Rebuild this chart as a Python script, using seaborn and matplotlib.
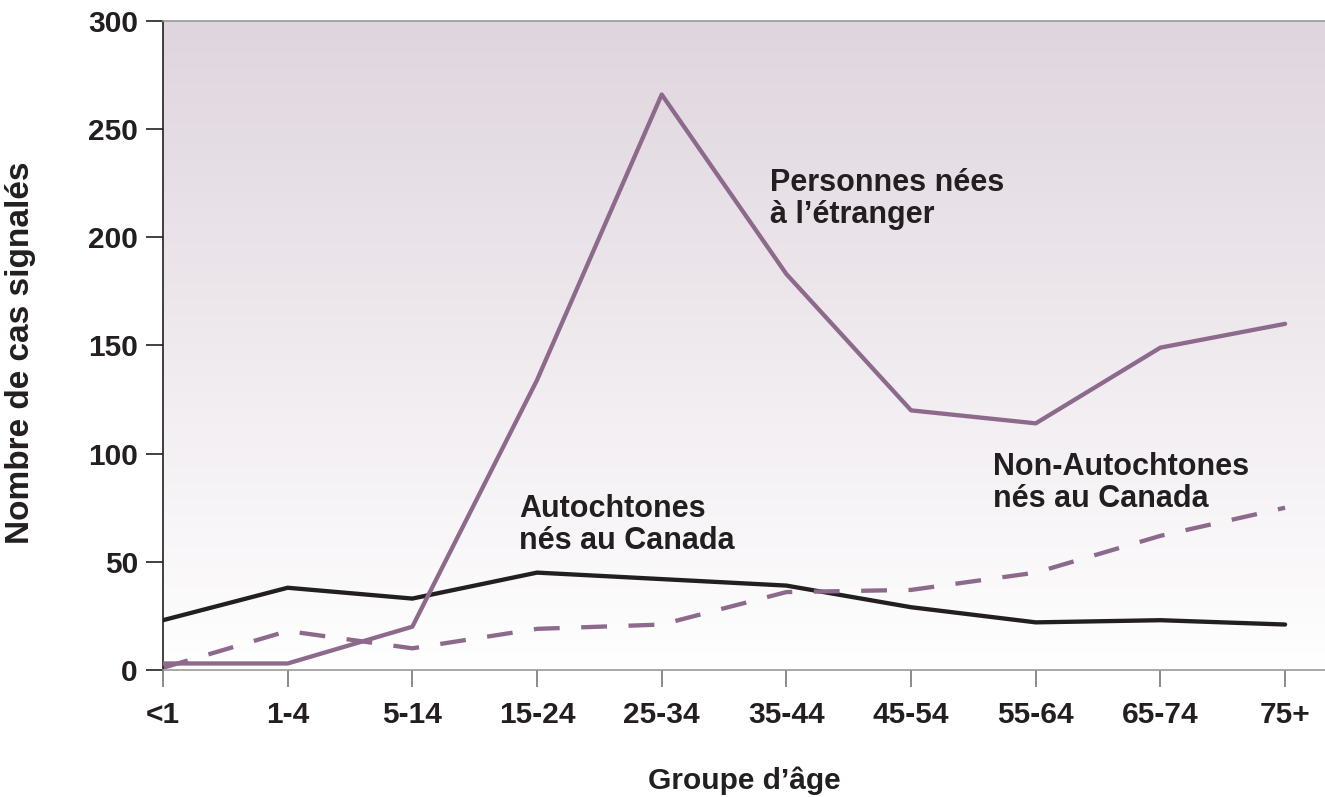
import numpy as np
import pandas as pd
import matplotlib
matplotlib.use("Agg")
import matplotlib.pyplot as plt
from matplotlib.colors import LinearSegmentedColormap
import seaborn as sns

AGE_GROUPS = ["<1", "1-4", "5-14", "15-24", "25-34", "35-44", "45-54", "55-64", "65-74", "75+"]
foreign_born = [3, 3, 20, 134, 266, 183, 120, 114, 149, 160]
aboriginal = [23, 38, 33, 45, 42, 39, 29, 22, 23, 21]
non_aboriginal = [1, 18, 10, 19, 21, 36, 37, 45, 62, 75]

PURPLE = "#8d6a8c"
INK = "#231f20"

sns.set_theme(style="white")
plt.rcParams["font.family"] = ["Liberation Sans", "DejaVu Sans"]
plt.rcParams["font.weight"] = "bold"

fig, ax = plt.subplots(figsize=(13.25, 7.97), dpi=100)
fig.subplots_adjust(left=0.123, right=1.0, top=0.9737, bottom=0.1594)

x = np.arange(len(AGE_GROUPS))
df = pd.DataFrame({"x": x, "foreign": foreign_born, "abo": aboriginal, "nonabo": non_aboriginal})

xmax = 9.32
# background gradient
cmap = LinearSegmentedColormap.from_list("bg", ["#ffffff", "#efeaee", "#dfd5de"])
grad = np.linspace(0, 1, 256).reshape(-1, 1)
ax.imshow(grad, extent=[0, xmax, 0, 300], origin="lower", aspect="auto", cmap=cmap, zorder=0)

sns.lineplot(data=df, x="x", y="foreign", color=PURPLE, linewidth=3.1, ax=ax, zorder=3)
sns.lineplot(data=df, x="x", y="abo", color=INK, linewidth=3.1, ax=ax, zorder=2)
sns.lineplot(data=df, x="x", y="nonabo", color=PURPLE, linewidth=3.1, ax=ax, zorder=2,
             dashes=False, linestyle=(0, (6, 5)))

ax.set_xlim(0, xmax)
ax.set_ylim(0, 300)
ax.set_xticks(x)
ax.set_xticklabels(AGE_GROUPS)
ax.set_yticks([0, 50, 100, 150, 200, 250, 300])

ax.tick_params(axis="x", direction="out", length=12, width=1.2, color="#777777", pad=10,
               labelsize=21.5, bottom=True)
ax.tick_params(axis="y", direction="out", length=12, width=1.2, color=INK, pad=6,
               labelsize=21.5, left=True)
for lab in ax.get_xticklabels() + ax.get_yticklabels():
    lab.set_fontweight("bold")
    lab.set_color(INK)

for side in ["top", "bottom"]:
    ax.spines[side].set_color("#999999")
    ax.spines[side].set_linewidth(1.2)
ax.spines["left"].set_color(INK)
ax.spines["left"].set_linewidth(1.2)
ax.spines["right"].set_visible(False)

ax.set_xlabel("Groupe d’âge", fontsize=21.5, fontweight="bold", color=INK)
ax.set_ylabel("Nombre de cas signalés", fontsize=24, fontweight="bold", color=INK)
ax.xaxis.set_label_coords(0.5, -0.148)
ax.yaxis.set_label_coords(-0.109, 0.488)

ax.text(4.87, 217.6, "Personnes nées\nà l’étranger", fontsize=22, fontweight="bold",
        color=INK, va="center", ha="left", linespacing=1.08)
ax.text(2.855, 67, "Autochtones\nnés au Canada", fontsize=22, fontweight="bold",
        color=INK, va="center", ha="left", linespacing=1.08)
ax.text(6.656, 86.6, "Non-Autochtones\nnés au Canada", fontsize=22, fontweight="bold",
        color=INK, va="center", ha="left", linespacing=1.08)

plt.savefig("out.png", dpi=100)
plt.close()
